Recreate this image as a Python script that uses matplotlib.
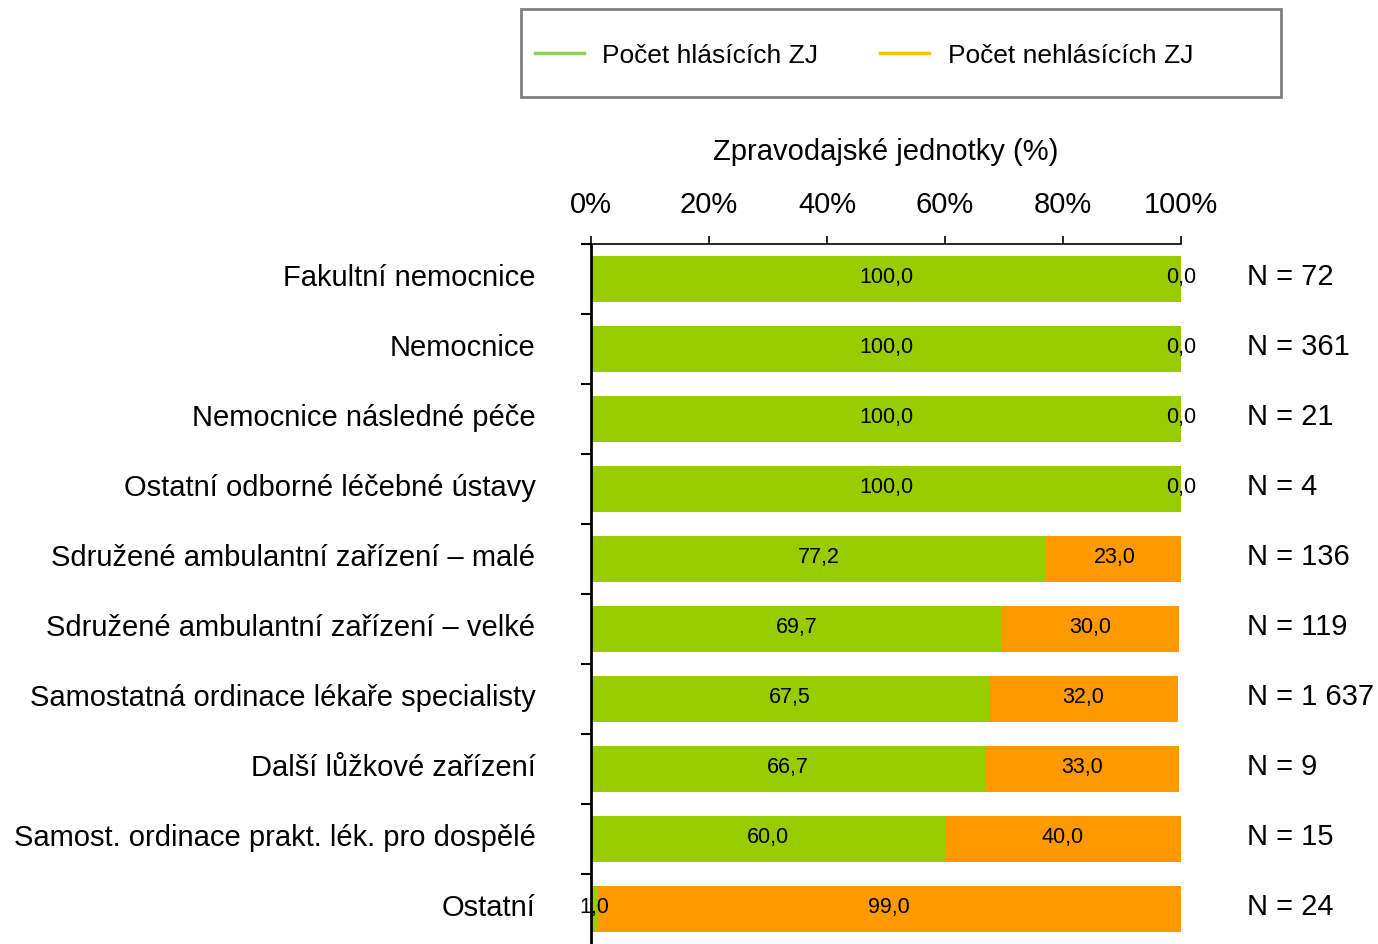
import matplotlib.pyplot as plt
from matplotlib.patches import Rectangle
from matplotlib.transforms import ScaledTranslation
import numpy as np

plt.rcParams['font.family'] = ['Liberation Sans', 'DejaVu Sans']

categories = ["Fakultní nemocnice", "Nemocnice", "Nemocnice následné péče",
              "Ostatní odborné léčebné ústavy", "Sdružené ambulantní zařízení – malé",
              "Sdružené ambulantní zařízení – velké", "Samostatná ordinace lékaře specialisty",
              "Další lůžkové zařízení", "Samost. ordinace prakt. lék. pro dospělé", "Ostatní"]
hlasici = [100.0, 100.0, 100.0, 100.0, 77.2, 69.7, 67.5, 66.7, 60.0, 1.0]
nehlasici = [0.0, 0.0, 0.0, 0.0, 23.0, 30.0, 32.0, 33.0, 40.0, 99.0]
n_labels = ["N = 72", "N = 361", "N = 21", "N = 4", "N = 136", "N = 119",
            "N = 1 637", "N = 9", "N = 15", "N = 24"]
xticks = [0, 20, 40, 60, 80, 100]

green = "#99CC00"
orange = "#FF9900"
fs = 21

fig = plt.figure(figsize=(13.78, 9.45), dpi=100)
ax = fig.add_axes([591 / 1378, 0, 590 / 1378, 1 - 245 / 945])

y = np.arange(len(categories))
ax.barh(y, hlasici, height=0.66, color=green)
ax.barh(y, nehlasici, left=hlasici, height=0.66, color=orange)

def fmt(v):
    return f"{v:.1f}".replace(".", ",")

up2 = ax.transData + ScaledTranslation(0, 2 / 100, fig.dpi_scale_trans)
up3 = ax.transData + ScaledTranslation(0, 3 / 100, fig.dpi_scale_trans)
for i in range(len(categories)):
    g, o = hlasici[i], nehlasici[i]
    ax.text(g / 2, i, fmt(g), ha="center", va="center", fontsize=15.5, transform=up2)
    ax.text(min(g + o / 2, 100), i, fmt(o), ha="center", va="center", fontsize=15.5,
            transform=up2)
    ax.text(111.2, i, n_labels[i], ha="left", va="center", fontsize=fs, clip_on=False,
            transform=up3)

ax.set_xlim(0, 100)
ax.set_ylim(len(categories) - 0.5, -0.5)
ax.xaxis.tick_top()
ax.set_xticks(xticks)
ax.set_xticklabels([f"{t}%" for t in xticks], fontsize=fs)
ax.tick_params(axis="x", direction="out", length=6, width=1.2, pad=13)
ax.set_xlabel("Zpravodajské jednotky (%)", fontsize=fs, labelpad=22)
ax.xaxis.set_label_position("top")

ax.set_yticks(y)
ax.set_yticklabels(categories, fontsize=fs)
ax.tick_params(axis="y", length=0, pad=40)
for lab in ax.get_yticklabels():
    lab.set_transform(lab.get_transform() + ScaledTranslation(0, 5 / 100, fig.dpi_scale_trans))
ax.set_yticks(np.arange(len(categories)) - 0.5, minor=True)
ax.tick_params(axis="y", which="minor", length=7, width=1.5, direction="out")

for s in ["right", "bottom"]:
    ax.spines[s].set_visible(False)
ax.spines["left"].set_linewidth(2)
ax.spines["top"].set_linewidth(1.2)

# legend box
fig.patches.append(Rectangle((521 / 1378, 1 - 98 / 945), 760 / 1378, 88 / 945,
                             transform=fig.transFigure, fill=False,
                             edgecolor="#808080", linewidth=2))
handles = [plt.Line2D([], [], color="#92D050", lw=2.5),
           plt.Line2D([], [], color="#FFC000", lw=2.5)]
fig.legend(handles, ["Počet hlásících ZJ", "Počet nehlásících ZJ"],
           loc="center left", bbox_to_anchor=(535 / 1378, 1 - 56 / 945), ncol=2,
           fontsize=19, frameon=False, borderpad=0, borderaxespad=0,
           handlelength=1.85, columnspacing=2.35, handletextpad=0.7)

fig.savefig("out.png", dpi=100)
